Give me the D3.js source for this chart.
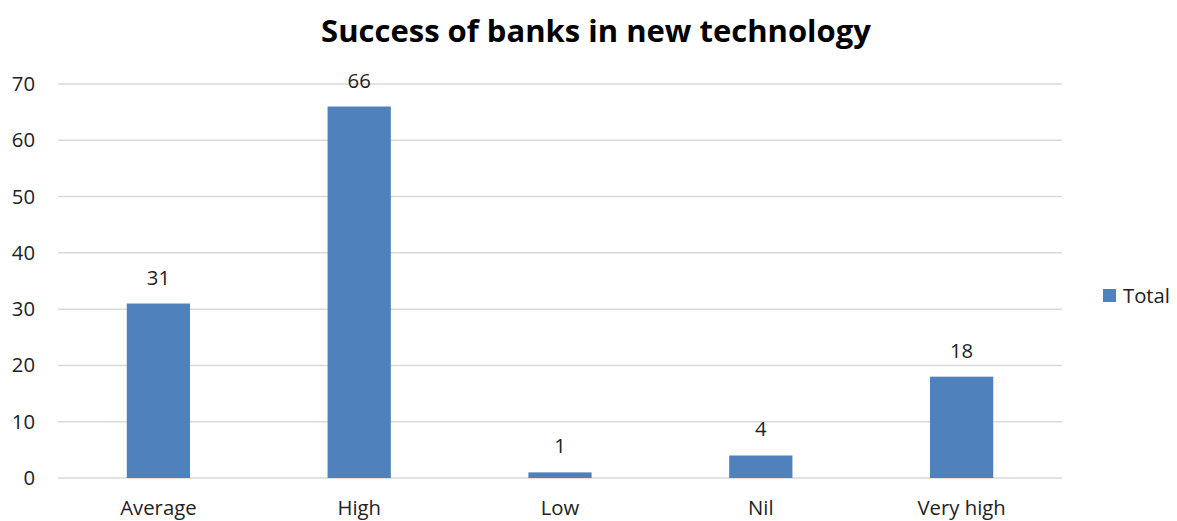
<!DOCTYPE html>
<html>
<head>
<meta charset="utf-8">
<script src="https://cdn.jsdelivr.net/npm/d3@7"></script>
<style>
  html, body { margin: 0; padding: 0; background: #fff; }
  svg { display: block; }
  svg text { font-family: "Open Sans", "Liberation Sans", sans-serif; }
</style>
</head>
<body>
<svg id="chart" width="1177" height="521"></svg>
<script>
// Survey responses: how successful banks have been with new technology
const categories = ["Average", "High", "Low", "Nil", "Very high"];
const totals = [31, 66, 1, 4, 18];
const yTicks = [0, 10, 20, 30, 40, 50, 60, 70];
const seriesName = "Total";
const chartTitle = "Success of banks in new technology";

const svg = d3.select("#chart");
const margin = { left: 58, right: 115, top: 84, bottom: 43 };
const W = 1177, H = 521;
const labelSize = 20.3;

const x = d3.scaleBand()
  .domain(categories)
  .range([margin.left, W - margin.right])
  .paddingInner(0.685)
  .paddingOuter(0.3425);

const y = d3.scaleLinear()
  .domain([0, 70])
  .range([H - margin.bottom, margin.top]);

// gridlines
svg.append("g")
  .selectAll("line")
  .data(yTicks)
  .join("line")
  .attr("x1", margin.left)
  .attr("x2", W - margin.right)
  .attr("y1", d => y(d))
  .attr("y2", d => y(d))
  .attr("stroke", "#d9d9d9")
  .attr("stroke-width", 1.5);

// y axis labels
const yAxis = d3.axisLeft(y).tickValues(yTicks).tickSize(0).tickPadding(23);
const gy = svg.append("g").attr("transform", `translate(${margin.left},0)`).call(yAxis);
gy.select(".domain").remove();
gy.attr("font-size", null).attr("font-family", null);
gy.selectAll("text").style("font-size", labelSize + "px").attr("fill", "#222");

// x axis labels
const xAxis = d3.axisBottom(x).tickSize(0).tickPadding(23);
const gx = svg.append("g").attr("transform", `translate(0,${H - margin.bottom})`).call(xAxis);
gx.select(".domain").remove();
gx.attr("font-size", null).attr("font-family", null);
gx.selectAll("text").style("font-size", labelSize + "px").attr("fill", "#222");

// bars
svg.append("g")
  .selectAll("rect")
  .data(categories.map((c, i) => ({ c, v: totals[i] })))
  .join("rect")
  .attr("x", d => x(d.c))
  .attr("width", x.bandwidth())
  .attr("y", d => y(d.v))
  .attr("height", d => y(0) - y(d.v))
  .attr("fill", "#4f81bd");

// value labels
svg.append("g")
  .selectAll("text")
  .data(categories.map((c, i) => ({ c, v: totals[i] })))
  .join("text")
  .attr("x", d => x(d.c) + x.bandwidth() / 2)
  .attr("y", d => y(d.v) - 19)
  .attr("text-anchor", "middle")
  .style("font-size", labelSize + "px")
  .attr("fill", "#222")
  .text(d => d.v);

// title
svg.append("text")
  .attr("x", 596)
  .attr("y", 42)
  .attr("text-anchor", "middle")
  .style("font-size", "31px")
  .attr("font-weight", "bold")
  .attr("fill", "#000")
  .text(chartTitle);

// legend
const lg = svg.append("g").attr("transform", "translate(1103,289)");
lg.append("rect").attr("width", 13).attr("height", 13).attr("fill", "#4f81bd");
lg.append("text").attr("x", 20).attr("y", 14).style("font-size", labelSize + "px").attr("fill", "#222").text(seriesName);
</script>
</body>
</html>
